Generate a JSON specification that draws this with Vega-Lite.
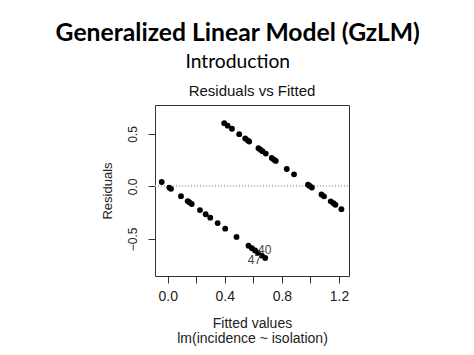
{
  "$schema": "https://vega.github.io/schema/vega-lite/v6.json",
  "background": "white",
  "padding": {"left": 55, "top": 20, "right": 0, "bottom": 0},
  "title": {
    "text": "Generalized Linear Model (GzLM)",
    "subtitle": "Introduction",
    "font": "Lato", "fontSize": 24.7, "fontWeight": "bold", "color": "black",
    "subtitleFont": "Lato", "subtitleFontSize": 19.3, "subtitleColor": "black",
    "anchor": "middle", "subtitlePadding": 8, "offset": 11, "dx": 12.5
  },
  "config": {
    "view": {"stroke": "#333333", "strokeWidth": 1},
    "font": "Liberation Sans",
    "axis": {"grid": false, "domain": false, "tickColor": "#333333", "tickSize": 7, "labelColor": "#222222", "titleColor": "#222222", "titleFontWeight": "normal"}
  },
  "vconcat": [
    {
      "title": {"text": "Residuals vs Fitted", "font": "Liberation Sans", "fontSize": 15, "fontWeight": "normal", "color": "#111111", "offset": 6},
      "width": 194,
      "height": 171,
      "data": {"values": [
        {"fitted": -0.042, "residual": 0.042},
        {"fitted": 0.011, "residual": -0.011},
        {"fitted": 0.023, "residual": -0.023},
        {"fitted": 0.093, "residual": -0.093},
        {"fitted": 0.14, "residual": -0.14},
        {"fitted": 0.151, "residual": -0.151},
        {"fitted": 0.168, "residual": -0.168},
        {"fitted": 0.226, "residual": -0.226},
        {"fitted": 0.266, "residual": -0.266},
        {"fitted": 0.298, "residual": -0.298},
        {"fitted": 0.35, "residual": -0.35},
        {"fitted": 0.403, "residual": -0.403},
        {"fitted": 0.482, "residual": -0.482},
        {"fitted": 0.566, "residual": -0.566},
        {"fitted": 0.59, "residual": -0.59},
        {"fitted": 0.612, "residual": -0.612, "label": "40", "side": "right"},
        {"fitted": 0.632, "residual": -0.632},
        {"fitted": 0.66, "residual": -0.66},
        {"fitted": 0.683, "residual": -0.683, "label": "47", "side": "left"},
        {"fitted": 0.396, "residual": 0.604},
        {"fitted": 0.42, "residual": 0.58},
        {"fitted": 0.45, "residual": 0.55},
        {"fitted": 0.501, "residual": 0.499},
        {"fitted": 0.543, "residual": 0.457},
        {"fitted": 0.56, "residual": 0.44},
        {"fitted": 0.571, "residual": 0.429},
        {"fitted": 0.636, "residual": 0.364},
        {"fitted": 0.65, "residual": 0.35},
        {"fitted": 0.664, "residual": 0.336},
        {"fitted": 0.687, "residual": 0.313},
        {"fitted": 0.729, "residual": 0.271},
        {"fitted": 0.745, "residual": 0.255},
        {"fitted": 0.757, "residual": 0.243},
        {"fitted": 0.834, "residual": 0.166},
        {"fitted": 0.885, "residual": 0.115},
        {"fitted": 0.983, "residual": 0.017},
        {"fitted": 0.995, "residual": 0.005},
        {"fitted": 1.01, "residual": -0.01},
        {"fitted": 1.077, "residual": -0.077},
        {"fitted": 1.095, "residual": -0.095},
        {"fitted": 1.142, "residual": -0.142},
        {"fitted": 1.161, "residual": -0.161},
        {"fitted": 1.175, "residual": -0.175},
        {"fitted": 1.217, "residual": -0.217}
      ]},
      "encoding": {
        "x": {
          "field": "fitted", "type": "quantitative",
          "scale": {"domain": [-0.089, 1.27], "nice": false, "zero": false},
          "axis": {
            "title": ["Fitted values", "lm(incidence ~ isolation)"],
            "titleFontSize": 14, "titleLineHeight": 15, "titlePadding": 13,
            "values": [0, 0.2, 0.4, 0.6, 0.8, 1.0, 1.2],
            "format": ".1f",
            "labelExpr": "indexof(['0.0','0.4','0.8','1.2'], datum.label) >= 0 ? datum.label : ''",
            "labelFontSize": 14, "labelPadding": 6
          }
        },
        "y": {
          "field": "residual", "type": "quantitative",
          "scale": {"domain": [-0.855, 0.777], "nice": false, "zero": false},
          "axis": {
            "title": "Residuals", "titleFontSize": 13, "titlePadding": 12,
            "values": [-0.5, 0, 0.5], "format": ".1f",
            "labelAngle": -90, "labelAlign": "center", "labelBaseline": "bottom",
            "labelFontSize": 12, "labelPadding": 9
          }
        }
      },
      "layer": [
        {
          "mark": {"type": "rule", "color": "#bbbbbb", "strokeDash": [1, 2], "strokeWidth": 1},
          "encoding": {"x": {"datum": -0.089}, "x2": {"datum": 1.27}, "y": {"datum": 0}}
        },
        {
          "mark": {"type": "circle", "color": "black", "opacity": 1, "size": 34}
        },
        {
          "transform": [{"filter": "datum.side == 'right'"}],
          "mark": {"type": "text", "align": "left", "baseline": "middle", "dx": 3, "dy": -1, "fontSize": 12, "color": "#444444"},
          "encoding": {"text": {"field": "label"}}
        },
        {
          "transform": [{"filter": "datum.side == 'left'"}],
          "mark": {"type": "text", "align": "right", "baseline": "middle", "dx": -4, "dy": 2, "fontSize": 12, "color": "#444444"},
          "encoding": {"text": {"field": "label"}}
        }
      ]
    }
  ]
}
